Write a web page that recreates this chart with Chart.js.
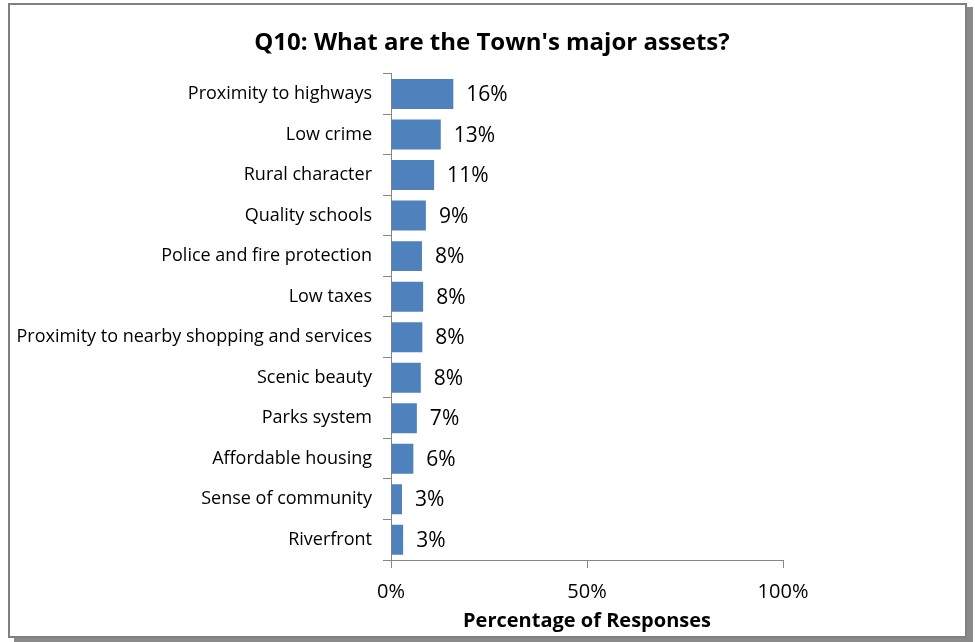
<!DOCTYPE html>
<html>
<head>
<meta charset="utf-8">
<script src="https://cdn.jsdelivr.net/npm/chart.js@4.4.0/dist/chart.umd.min.js"></script>
<style>
    html, body { margin: 0; padding: 0; background: #fff; }
    #frame {
        position: absolute; left: 8px; top: 3px;
        width: 955px; height: 631px;
        border: 2px solid #808080;
        box-shadow: 6px 4px 0 #8a8a8a;
        background: #fff;
    }
    #wrap { position: absolute; left: 0; top: 0; width: 975px; height: 642px; }
</style>
</head>
<body>
<div id="frame"></div>
<div id="wrap"><canvas id="assetsChart" width="975" height="642"></canvas></div>
<script>
// --- Data ---
const categories = [
    'Proximity to highways',
    'Low crime',
    'Rural character',
    'Quality schools',
    'Police and fire protection',
    'Low taxes',
    'Proximity to nearby shopping and services',
    'Scenic beauty',
    'Parks system',
    'Affordable housing',
    'Sense of community',
    'Riverfront'
];
const shares = [15.9, 12.7, 11.0, 8.9, 7.9, 8.2, 8.0, 7.6, 6.6, 5.7, 2.8, 3.1];
const xTicks = [0, 50, 100];

const FONT = "'Open Sans', Lato, sans-serif";
const AXIS_GREY = '#868686';

// little plugin to write the % next to each bar (no datalabels plugin here)
const barLabels = {
    id: 'barLabels',
    afterDatasetsDraw(chart) {
        const ctx = chart.ctx;
        const meta = chart.getDatasetMeta(0);
        ctx.save();
        ctx.font = '21px ' + FONT;
        ctx.fillStyle = '#000';
        ctx.textAlign = 'left';
        ctx.textBaseline = 'middle';
        meta.data.forEach((bar, i) => {
            ctx.fillText(Math.round(shares[i]) + '%', bar.x + 13, bar.y + 1);
        });
        ctx.restore();
    }
};

new Chart(document.getElementById('assetsChart').getContext('2d'), {
    type: 'bar',
    data: {
        labels: categories,
        datasets: [{
            data: shares,
            backgroundColor: '#4F81BD',
            borderWidth: 0,
            barPercentage: 0.74,
            categoryPercentage: 1.0,
            yAxisID: 'y'
        }]
    },
    options: {
        indexAxis: 'y',
        responsive: false,
        animation: false,
        layout: { padding: { left: 9, right: 0, top: 0, bottom: 0 } },
        plugins: {
            legend: { display: false },
            tooltip: { enabled: false },
            title: {
                display: true,
                text: "Q10: What are the Town's major assets?",
                color: '#000',
                font: { family: FONT, size: 24, weight: 'bold' },
                padding: { top: 29, bottom: 16 }
            }
        },
        scales: {
            x: {
                min: 0,
                max: 100,
                afterBuildTicks: axis => { axis.ticks = xTicks.map(v => ({ value: v })); },
                afterFit: axis => { axis.height = 82; },
                grid: { drawOnChartArea: false, drawTicks: true, tickLength: 8, color: AXIS_GREY },
                border: { display: true, color: AXIS_GREY },
                ticks: {
                    color: '#000',
                    padding: 12,
                    font: { family: FONT, size: 20 },
                    maxRotation: 0,
                    callback: v => v + '%'
                },
                title: {
                    display: true,
                    text: 'Percentage of Responses',
                    color: '#000',
                    font: { family: FONT, size: 20, weight: 'bold' },
                    padding: { top: 0, bottom: 9 }
                }
            },
            y: {
                afterFit: axis => { axis.width = 382; },
                grid: { drawOnChartArea: false, drawTicks: true, tickLength: 8, color: AXIS_GREY, offset: true },
                border: { display: true, color: AXIS_GREY },
                ticks: {
                    color: '#000',
                    padding: 11,
                    autoSkip: false,
                    font: { family: FONT, size: 18 }
                }
            },
            // empty right-hand axis, only there to reserve the blank space right of the plot
            spacer: {
                type: 'category',
                axis: 'y',
                position: 'right',
                labels: categories,
                afterFit: axis => { axis.width = 192; },
                grid: { display: false, drawTicks: false },
                border: { display: false },
                ticks: { display: false }
            }
        }
    },
    plugins: [barLabels]
});
</script>
</body>
</html>
